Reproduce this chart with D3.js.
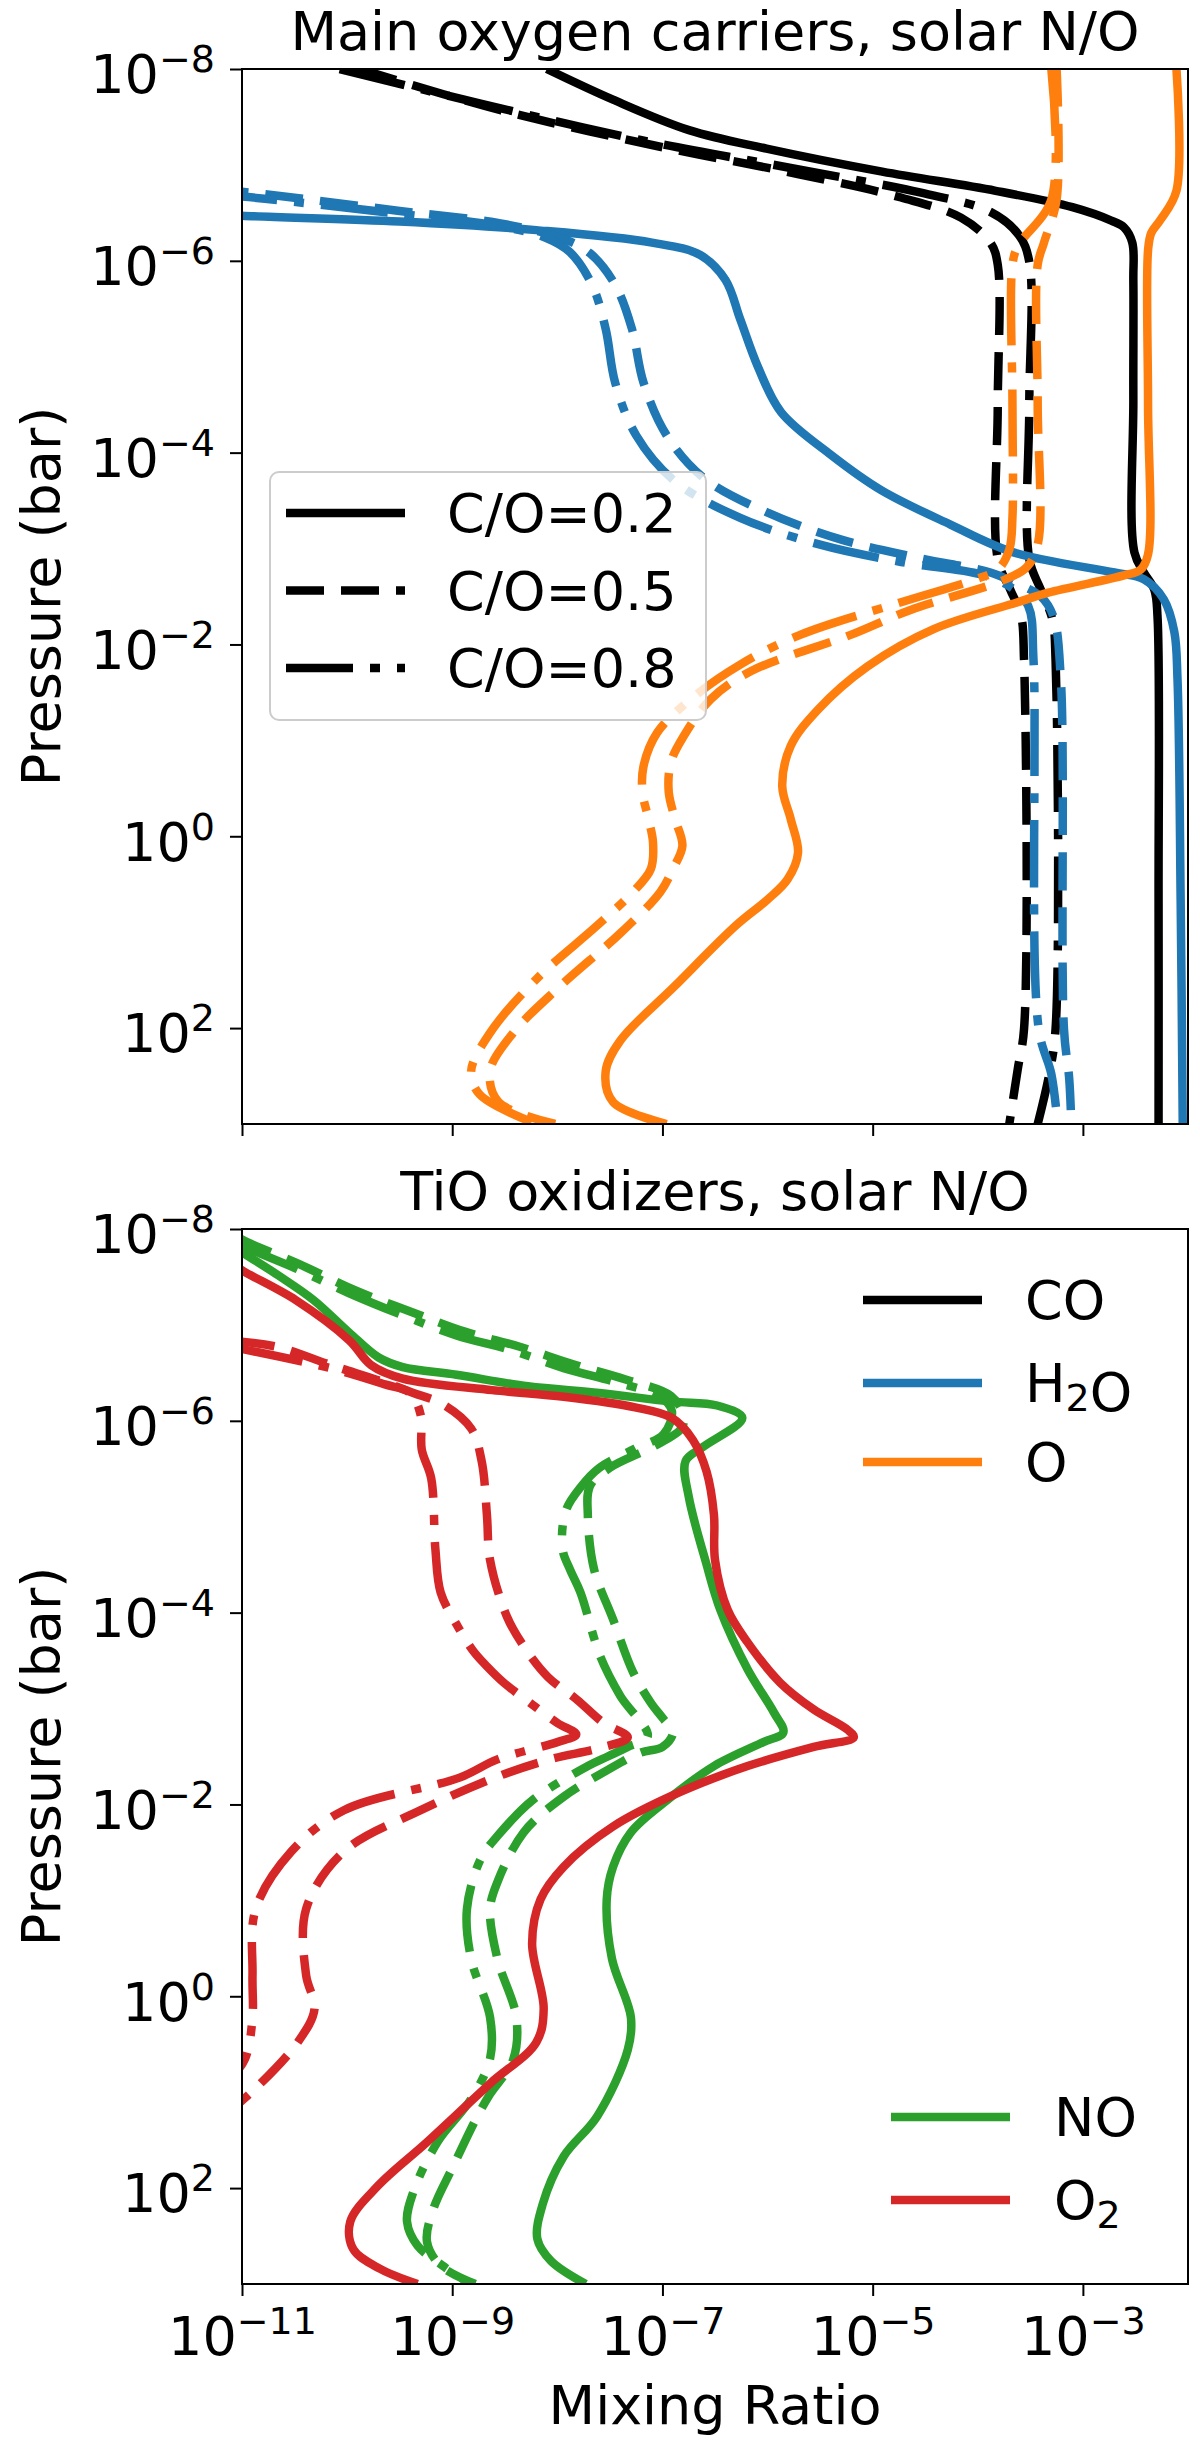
<!DOCTYPE html>
<html lang="en">
<head>
<meta charset="UTF-8" />
<title>Oxygen carriers and TiO oxidizers</title>
<style>
  html, body { margin: 0; background: #fff; }
  svg { display: block; font-family: "DejaVu Sans", sans-serif; }
</style>
</head>
<body>
<svg id="chart" width="1200" height="2444"></svg>
<script src="https://cdn.jsdelivr.net/npm/d3@7"></script>
<script>
// axis settings
const xDomain = [1e-11, 1e-2];
const yDomain = [1e-8, 1e3];
const xTicks = [1e-11, 1e-9, 1e-7, 1e-5, 1e-3];
const yTicks = [1e-8, 1e-6, 1e-4, 1e-2, 1e0, 1e2];

// every series: [log10 mixing ratio, log10 pressure (bar)]
// --- top panel: main oxygen carriers
const coSolid = [[-8.10,-8.00],[-7.47,-7.68],[-6.74,-7.36],[-6.01,-7.17],[-4.91,-6.93],[-3.83,-6.73],[-3.10,-6.56],[-2.73,-6.42],[-2.61,-6.35],[-2.53,-6.19],[-2.52,-5.80],[-2.52,-4.55],[-2.51,-2.96],[-2.42,-2.75],[-2.32,-2.57],[-2.29,-2.29],[-2.28,0.66],[-2.28,3.00]];
const coDashed = [[-9.88,-8.00],[-8.54,-7.57],[-7.11,-7.21],[-5.69,-6.90],[-4.73,-6.66],[-4.16,-6.45],[-3.88,-6.19],[-3.81,-5.96],[-3.81,-4.50],[-3.81,-2.89],[-3.69,-2.57],[-3.59,-2.31],[-3.56,-1.84],[-3.56,2.01],[-3.62,2.43],[-3.70,3.00]];
const coDashDot = [[-10.07,-8.00],[-8.73,-7.64],[-7.21,-7.26],[-5.69,-6.95],[-4.54,-6.71],[-3.88,-6.51],[-3.61,-6.27],[-3.51,-5.99],[-3.51,-4.50],[-3.51,-2.89],[-3.40,-2.57],[-3.29,-2.26],[-3.26,-1.84],[-3.26,2.01],[-3.32,2.48],[-3.43,3.00]];

const h2oSolid = [[-11.30,-6.49],[-11.00,-6.47],[-9.50,-6.41],[-8.20,-6.32],[-7.10,-6.19],[-6.64,-6.06],[-6.40,-5.80],[-6.26,-5.39],[-6.09,-4.89],[-5.87,-4.42],[-5.40,-3.98],[-4.92,-3.61],[-4.26,-3.25],[-3.66,-2.96],[-2.70,-2.75],[-2.42,-2.68],[-2.23,-2.47],[-2.13,-2.13],[-2.10,-1.64],[-2.07,0.66],[-2.05,3.00]];
const h2oDashed = [[-11.30,-6.74],[-11.00,-6.72],[-9.50,-6.52],[-8.54,-6.39],[-7.97,-6.24],[-7.69,-6.08],[-7.45,-5.75],[-7.29,-5.29],[-7.18,-4.73],[-6.96,-4.18],[-6.60,-3.73],[-6.01,-3.38],[-5.29,-3.09],[-4.55,-2.90],[-3.88,-2.75],[-3.66,-2.65],[-3.40,-2.50],[-3.28,-2.29],[-3.21,-1.64],[-3.18,2.01],[-3.13,2.53],[-3.11,3.00]];
const h2oDashDot = [[-11.30,-6.69],[-11.00,-6.67],[-9.50,-6.49],[-8.54,-6.36],[-8.11,-6.24],[-7.88,-6.09],[-7.67,-5.75],[-7.54,-5.29],[-7.45,-4.73],[-7.25,-4.18],[-6.88,-3.70],[-6.26,-3.32],[-5.50,-3.04],[-4.73,-2.86],[-3.97,-2.73],[-3.69,-2.60],[-3.52,-2.40],[-3.47,-1.84],[-3.42,2.01],[-3.30,2.48],[-3.24,3.00]];

const oSolid = [[-2.11,-8.00],[-2.11,-6.73],[-2.26,-6.43],[-2.35,-6.29],[-2.38,-6.11],[-2.38,-4.50],[-2.38,-2.94],[-2.45,-2.78],[-2.61,-2.72],[-3.33,-2.54],[-3.62,-2.44],[-4.42,-2.16],[-5.05,-1.77],[-5.52,-1.32],[-5.78,-0.94],[-5.86,-0.52],[-5.78,-0.18],[-5.71,0.17],[-5.81,0.45],[-6.00,0.66],[-6.30,0.93],[-6.89,1.57],[-7.40,2.13],[-7.54,2.45],[-7.47,2.77],[-6.96,3.00]];
const oDashed = [[-3.25,-8.00],[-3.25,-6.64],[-3.37,-6.19],[-3.43,-5.96],[-3.43,-4.50],[-3.43,-3.04],[-3.54,-2.80],[-3.78,-2.66],[-4.64,-2.36],[-5.21,-2.10],[-6.16,-1.72],[-6.54,-1.43],[-6.80,-1.04],[-6.92,-0.77],[-6.94,-0.46],[-6.88,-0.18],[-6.81,0.10],[-6.90,0.34],[-7.02,0.58],[-7.40,1.01],[-7.98,1.57],[-8.42,2.05],[-8.64,2.45],[-8.56,2.77],[-8.02,3.00]];
const oDashDot = [[-3.30,-8.00],[-3.30,-6.64],[-3.62,-6.15],[-3.67,-5.96],[-3.67,-4.50],[-3.67,-3.33],[-3.70,-2.99],[-3.81,-2.78],[-4.02,-2.68],[-4.73,-2.44],[-5.69,-2.10],[-6.26,-1.79],[-6.73,-1.43],[-7.05,-1.08],[-7.18,-0.73],[-7.19,-0.46],[-7.14,-0.21],[-7.09,0.06],[-7.11,0.34],[-7.28,0.58],[-7.62,0.93],[-8.20,1.49],[-8.64,2.05],[-8.82,2.45],[-8.74,2.69],[-8.20,3.00]];

// --- bottom panel: TiO oxidizers
const noSolid = [[-11.10,-7.84],[-11.00,-7.76],[-10.66,-7.52],[-10.32,-7.26],[-9.98,-6.92],[-9.70,-6.66],[-9.47,-6.56],[-8.96,-6.48],[-8.28,-6.36],[-7.60,-6.29],[-6.91,-6.20],[-6.48,-6.16],[-6.24,-6.03],[-6.61,-5.73],[-6.78,-5.58],[-6.75,-5.21],[-6.58,-4.50],[-6.45,-4.03],[-6.19,-3.41],[-5.94,-2.96],[-5.85,-2.75],[-6.04,-2.65],[-6.51,-2.40],[-6.95,-2.05],[-7.30,-1.71],[-7.47,-1.35],[-7.53,-1.01],[-7.48,-0.39],[-7.30,0.22],[-7.33,0.56],[-7.62,1.25],[-7.94,1.67],[-8.14,2.17],[-8.19,2.53],[-8.06,2.76],[-7.73,3.00]];
const noDashed = [[-11.05,-7.93],[-11.00,-7.89],[-10.45,-7.63],[-9.92,-7.36],[-9.40,-7.14],[-8.88,-6.93],[-8.35,-6.77],[-7.85,-6.59],[-7.35,-6.43],[-6.92,-6.26],[-6.80,-6.06],[-6.82,-5.92],[-7.09,-5.73],[-7.50,-5.51],[-7.69,-5.32],[-7.71,-5.02],[-7.65,-4.45],[-7.47,-3.93],[-7.28,-3.38],[-7.11,-3.06],[-6.99,-2.89],[-6.90,-2.75],[-7.00,-2.60],[-7.21,-2.54],[-7.52,-2.36],[-7.94,-2.08],[-8.32,-1.71],[-8.57,-1.19],[-8.64,-0.91],[-8.57,-0.39],[-8.39,0.22],[-8.42,0.66],[-8.64,1.02],[-8.76,1.25],[-8.99,1.77],[-9.18,2.22],[-9.24,2.56],[-9.11,2.81],[-8.78,3.00]];
const noDashDot = [[-11.05,-7.87],[-11.00,-7.83],[-10.49,-7.59],[-9.98,-7.33],[-9.47,-7.10],[-8.96,-6.89],[-8.45,-6.74],[-7.94,-6.55],[-7.43,-6.40],[-7.02,-6.25],[-6.91,-6.10],[-6.99,-5.86],[-7.26,-5.71],[-7.60,-5.51],[-7.77,-5.32],[-7.92,-5.06],[-7.95,-4.66],[-7.88,-4.45],[-7.78,-4.21],[-7.59,-3.54],[-7.40,-3.13],[-7.14,-2.71],[-7.33,-2.60],[-7.52,-2.50],[-7.71,-2.40],[-8.23,-2.05],[-8.57,-1.67],[-8.73,-1.43],[-8.86,-0.91],[-8.82,-0.39],[-8.64,0.22],[-8.64,0.65],[-8.82,1.07],[-9.14,1.52],[-9.37,2.04],[-9.43,2.35],[-9.33,2.60],[-9.09,2.81],[-8.83,3.00]];

const o2Solid = [[-11.10,-7.65],[-11.00,-7.57],[-10.49,-7.26],[-9.98,-6.84],[-9.77,-6.58],[-9.47,-6.44],[-8.62,-6.32],[-7.94,-6.25],[-7.26,-6.14],[-6.91,-6.03],[-6.71,-5.80],[-6.58,-5.47],[-6.51,-5.02],[-6.50,-4.55],[-6.38,-4.03],[-6.19,-3.69],[-5.88,-3.27],[-5.56,-2.99],[-5.24,-2.78],[-5.18,-2.70],[-5.56,-2.60],[-6.19,-2.40],[-6.83,-2.13],[-7.47,-1.77],[-7.94,-1.35],[-8.16,-1.01],[-8.24,-0.55],[-8.13,0.13],[-8.20,0.48],[-8.64,0.91],[-9.24,1.52],[-9.71,1.98],[-9.97,2.35],[-9.94,2.64],[-9.69,2.84],[-9.33,3.00]];
const o2Dashed = [[-11.05,-6.83],[-10.66,-6.77],[-10.15,-6.58],[-9.64,-6.40],[-9.37,-6.29],[-9.10,-6.18],[-8.82,-5.92],[-8.72,-5.58],[-8.67,-5.02],[-8.64,-4.55],[-8.48,-3.96],[-8.32,-3.65],[-8.09,-3.33],[-7.81,-3.09],[-7.56,-2.85],[-7.33,-2.70],[-7.59,-2.59],[-8.07,-2.47],[-8.57,-2.29],[-9.30,-1.94],[-10.03,-1.51],[-10.39,-0.91],[-10.39,-0.22],[-10.31,0.13],[-10.47,0.48],[-10.90,0.99],[-11.16,1.23]];
const o2DashDot = [[-11.05,-6.76],[-10.16,-6.55],[-9.64,-6.38],[-9.40,-6.29],[-9.30,-6.06],[-9.29,-5.70],[-9.20,-5.40],[-9.16,-4.66],[-9.11,-4.21],[-8.96,-3.88],[-8.80,-3.60],[-8.67,-3.44],[-8.51,-3.27],[-8.26,-3.06],[-8.00,-2.85],[-7.82,-2.73],[-8.00,-2.65],[-8.57,-2.47],[-8.93,-2.28],[-10.03,-1.94],[-10.53,-1.51],[-10.87,-0.91],[-10.90,-0.22],[-10.90,0.22],[-10.97,0.65],[-11.11,0.86]];

const colors = { CO: "#000000", H2O: "#1f77b4", O: "#ff7f0e", NO: "#2ca02c", O2: "#d62728" };
const dashes = { solid: null, dashed: "38,17", dashdot: "67,17,10,17" };

const panels = [
  {
    top: 69,
    title: "Main oxygen carriers, solar N/O",
    xLabels: false,
    series: [
      {sp: "CO", ls: "solid", d: coSolid}, {sp: "CO", ls: "dashed", d: coDashed}, {sp: "CO", ls: "dashdot", d: coDashDot},
      {sp: "H2O", ls: "solid", d: h2oSolid}, {sp: "H2O", ls: "dashed", d: h2oDashed}, {sp: "H2O", ls: "dashdot", d: h2oDashDot},
      {sp: "O", ls: "solid", d: oSolid}, {sp: "O", ls: "dashed", d: oDashed}, {sp: "O", ls: "dashdot", d: oDashDot}
    ]
  },
  {
    top: 1229,
    title: "TiO oxidizers, solar N/O",
    xLabels: true,
    series: [
      {sp: "NO", ls: "solid", d: noSolid}, {sp: "NO", ls: "dashed", d: noDashed}, {sp: "NO", ls: "dashdot", d: noDashDot},
      {sp: "O2", ls: "solid", d: o2Solid}, {sp: "O2", ls: "dashed", d: o2Dashed}, {sp: "O2", ls: "dashdot", d: o2DashDot}
    ]
  }
];

const svg = d3.select("#chart");
const left = 242, W = 946, H = 1055, LW = 8.5, FS = 54;

const x = d3.scaleLog().domain(xDomain).range([0, W]);
const y = d3.scaleLog().domain(yDomain).range([0, H]);   // pressure grows downward

const line = d3.line()
  .x(d => x(Math.pow(10, d[0])))
  .y(d => y(Math.pow(10, d[1])))
  .curve(d3.curveCatmullRom.alpha(0.5));

// "10" with a raised exponent, like matplotlib's log labels
function powLabel(sel) {
  sel.each(function(d) {
    const e = Math.round(Math.log10(d));
    const t = d3.select(this).text(null);
    t.append("tspan").text("10");
    t.append("tspan").attr("font-size", 38).attr("dy", -21)
      .text(e < 0 ? "\u2212" + (-e) : String(e));
  });
}

// label with "_2" style subscripts
function subLabel(t, str) {
  str.split(/(_\d)/).filter(s => s).forEach(s => {
    if (s[0] === "_") {
      t.append("tspan").attr("font-size", 38).attr("dy", 9).text(s.slice(1));
      t.append("tspan").attr("dy", -9).text("");
    } else {
      t.append("tspan").text(s);
    }
  });
}

panels.forEach((p, i) => {
  const g = svg.append("g").attr("transform", `translate(${left},${p.top})`);

  g.append("clipPath").attr("id", "clip" + i)
    .append("rect").attr("width", W).attr("height", H);

  g.append("g").attr("clip-path", `url(#clip${i})`)
    .selectAll("path")
    .data(p.series)
    .enter().append("path")
      .attr("d", s => line(s.d))
      .attr("fill", "none")
      .attr("stroke", s => colors[s.sp])
      .attr("stroke-width", LW)
      .attr("stroke-dasharray", s => dashes[s.ls]);

  // axes
  const ax = g.append("g").attr("transform", `translate(0,${H})`)
    .call(d3.axisBottom(x).tickValues(xTicks).tickSize(12).tickSizeOuter(0).tickPadding(21));
  const ay = g.append("g")
    .call(d3.axisLeft(y).tickValues(yTicks).tickSize(12).tickSizeOuter(0).tickPadding(15));

  [ax, ay].forEach(a => {
    a.attr("font-size", FS).attr("font-family", "DejaVu Sans");
    a.select(".domain").remove();
    a.selectAll(".tick line").attr("stroke", "#000").attr("stroke-width", 2);
    a.selectAll(".tick text").attr("fill", "#000");
  });
  ay.selectAll(".tick text").attr("dy", "0.44em").call(powLabel);
  if (p.xLabels) ax.selectAll(".tick text").call(powLabel);
  else ax.selectAll(".tick text").remove();

  g.append("rect")
    .attr("width", W).attr("height", H)
    .attr("fill", "none").attr("stroke", "#000").attr("stroke-width", 2);

  g.append("text")
    .attr("x", W / 2).attr("y", -19)
    .attr("text-anchor", "middle").attr("font-size", FS)
    .text(p.title);

  g.append("text")
    .attr("transform", `translate(${60 - left},${H / 2}) rotate(-90)`)
    .attr("text-anchor", "middle").attr("font-size", FS)
    .text("Pressure (bar)");

  if (p.xLabels) {
    g.append("text")
      .attr("x", W / 2).attr("y", H + 140)
      .attr("text-anchor", "middle").attr("font-size", FS)
      .text("Mixing Ratio");
  }
});

// legend: C/O line styles (framed, top panel)
const coRatios = ["C/O=0.2", "C/O=0.5", "C/O=0.8"];
const coStyles = ["solid", "dashed", "dashdot"];
const lg1 = svg.append("g");
lg1.append("rect")
  .attr("x", 270).attr("y", 472).attr("width", 436).attr("height", 248)
  .attr("rx", 9).attr("fill", "#fff").attr("fill-opacity", 0.8)
  .attr("stroke", "#cccccc").attr("stroke-width", 2);
coRatios.forEach((r, i) => {
  const cy = 513 + i * 77.5;
  lg1.append("line")
    .attr("x1", 286).attr("x2", 405).attr("y1", cy).attr("y2", cy)
    .attr("stroke", "#000").attr("stroke-width", LW)
    .attr("stroke-dasharray", dashes[coStyles[i]]);
  lg1.append("text").attr("x", 447).attr("y", cy + 19).attr("font-size", FS).text(r);
});

// legends: species colours (bottom panel, no frame)
function speciesLegend(names, x0, rows, tx) {
  const lg = svg.append("g");
  names.forEach((n, i) => {
    lg.append("line")
      .attr("x1", x0).attr("x2", x0 + 119).attr("y1", rows[i]).attr("y2", rows[i])
      .attr("stroke", colors[n.replace("_", "")]).attr("stroke-width", LW);
    const t = lg.append("text").attr("x", tx).attr("y", rows[i] + 19).attr("font-size", FS);
    subLabel(t, n);
  });
}
speciesLegend(["CO", "H_2O", "O"], 863, [1300, 1383, 1462], 1025);
speciesLegend(["NO", "O_2"], 891, [2117, 2200], 1054);
</script>
</body>
</html>
